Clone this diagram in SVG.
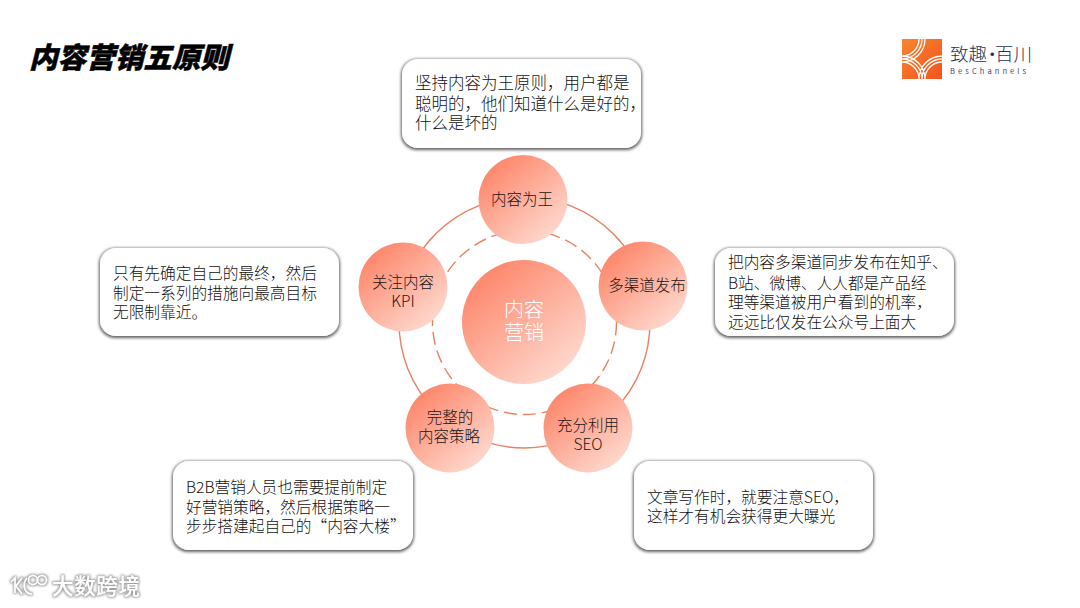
<svg xmlns="http://www.w3.org/2000/svg" width="1080" height="608" viewBox="0 0 1080 608">
<defs>
<linearGradient id="g" x1="0.12" y1="0.1" x2="0.85" y2="0.95"><stop offset="0" stop-color="#fd8468"/><stop offset="1" stop-color="#fedcd2"/></linearGradient>
<linearGradient id="lg" x1="0" y1="0" x2="1" y2="1"><stop offset="0" stop-color="#f9872f"/><stop offset="1" stop-color="#f2521e"/></linearGradient>
<filter id="sh" x="-10%" y="-15%" width="120%" height="130%"><feMorphology in="SourceAlpha" operator="dilate" radius="0.6" result="d"/><feGaussianBlur in="d" stdDeviation="1.6" result="b"/><feOffset in="b" dy="0.6" result="o"/><feFlood flood-color="#000" flood-opacity="0.62"/><feComposite in2="o" operator="in"/><feMerge><feMergeNode/><feMergeNode in="SourceGraphic"/></feMerge></filter>
<filter id="halo" x="-10%" y="-30%" width="120%" height="160%"><feMorphology in="SourceAlpha" operator="dilate" radius="0.6" result="d"/><feGaussianBlur in="d" stdDeviation="1.2" result="b"/><feFlood flood-color="#777" flood-opacity="0.7"/><feComposite in2="b" operator="in"/><feMerge><feMergeNode/><feMergeNode in="SourceGraphic"/></feMerge></filter>
</defs>
<style>
text{font-family:"Noto Sans CJK SC","Noto Sans",sans-serif}
.box{fill:#fff;filter:url(#sh)}
.t{font-size:15.7px;font-weight:300;fill:#111}
.n{font-size:15.5px;font-weight:300;fill:#1c1412;text-anchor:middle}
.c{fill:url(#g)}
.ring{fill:none;stroke:#e9805f;stroke-width:1.4}
.arc{fill:none;stroke:#fff;stroke-width:1.3}
</style>
<rect width="1080" height="608" fill="#fff"/>
<text id="title" transform="translate(29 68) skewX(-14)" font-size="28.6" font-weight="900" fill="#000" stroke="#000" stroke-width="0.5">内容营销五原则</text>

<g id="logo">
<rect x="902" y="39" width="40" height="40" fill="url(#lg)"/>
<path class="arc" d="M919 39A17 17 0 0 1 902 56M922 39A20 20 0 0 1 902 59M925 39A23 23 0 0 1 902 62M902 62A17 17 0 0 1 919 79M902 59A20 20 0 0 1 922 79M902 56A23 23 0 0 1 925 79M942 62A17 17 0 0 0 925 79M942 59A20 20 0 0 0 922 79M942 56A23 23 0 0 0 919 79"/>
<text fill="#1f3355" font-weight="300" font-size="18.5"><tspan x="950" y="61">致趣</tspan><tspan x="983" y="61">·</tspan><tspan x="995" y="61">百川</tspan><tspan x="950" y="74" font-size="7.5" font-weight="400" letter-spacing="3.1" fill="#3a4a66">BesChannels</tspan></text>
</g>

<g id="connectors">
<circle class="ring" cx="524.5" cy="322.5" r="125.5"/>
<circle class="ring" cx="524.5" cy="322.5" r="92" stroke-dasharray="13 6"/>
</g>

<g id="center"><circle class="c" cx="524" cy="322" r="62"/>
<text font-size="20" font-weight="300" fill="#fff" text-anchor="middle"><tspan x="524" y="317">内容</tspan><tspan x="524" y="340">营销</tspan></text></g>

<g id="n1"><circle class="c" cx="523" cy="199.5" r="44.5"/><text class="n" x="522" y="205">内容为王</text></g>
<g id="n2"><circle class="c" cx="643" cy="286" r="44.5"/><text class="n" x="647" y="291">多渠道发布</text></g>
<g id="n3"><circle class="c" cx="588" cy="428" r="44.5"/><text class="n"><tspan x="588" y="431">充分利用</tspan><tspan x="588" y="450">SEO</tspan></text></g>
<g id="n4"><circle class="c" cx="450" cy="428" r="44.5"/><text class="n"><tspan x="450" y="423">完整的</tspan><tspan x="449" y="442">内容策略</tspan></text></g>
<g id="n5"><circle class="c" cx="403" cy="287" r="44.5"/><text class="n"><tspan x="403" y="288">关注内容</tspan><tspan x="403" y="307">KPI</tspan></text></g>

<g id="b1"><rect class="box" x="402" y="59" width="239" height="89" rx="16"/>
<text class="t" style="font-size:16.5px"><tspan x="415" y="89">坚持内容为王原则，用户都是</tspan><tspan x="415" y="110">聪明的，他们知道什么是好的，</tspan><tspan x="415" y="129">什么是坏的</tspan></text></g>
<g id="b2"><rect class="box" x="715" y="248" width="239" height="88" rx="16"/>
<text class="t"><tspan x="728" y="268">把内容多渠道同步发布在知乎、</tspan><tspan x="728" y="289">B站、微博、人人都是产品经</tspan><tspan x="728" y="308">理等渠道被用户看到的机率，</tspan><tspan x="728" y="328">远远比仅发在公众号上面大</tspan></text></g>
<g id="b3"><rect class="box" x="634" y="461" width="239" height="89" rx="16"/>
<text class="t"><tspan x="647" y="502.5">文章写作时，就要注意SEO，</tspan><tspan x="647" y="521.5">这样才有机会获得更大曝光</tspan></text></g>
<g id="b4"><rect class="box" x="173" y="461" width="240" height="89" rx="16"/>
<text class="t"><tspan x="186" y="492.5">B2B营销人员也需要提前制定</tspan><tspan x="186" y="512.5">好营销策略，然后根据策略一</tspan><tspan x="186" y="531.5">步步搭建起自己的“内容大楼”</tspan></text></g>
<g id="b5"><rect class="box" x="100" y="248" width="239" height="88" rx="16"/>
<text class="t"><tspan x="113" y="278.5">只有先确定自己的最终，然后</tspan><tspan x="113" y="299">制定一系列的措施向最高目标</tspan><tspan x="113" y="318">无限制靠近。</tspan></text></g>

<g id="watermark" filter="url(#halo)">
<path d="M11 582L15 578V593M22 578L16 586L22 594M27 578C22 584 24 594 32 594" fill="none" stroke="#fff" stroke-width="1.6"/>
<circle cx="33" cy="580" r="4.5" fill="none" stroke="#fff" stroke-width="1.6"/><circle cx="42" cy="580" r="4.5" fill="none" stroke="#fff" stroke-width="1.6"/>
<text x="52" y="594" font-size="21.5" font-weight="500" fill="#fff" textLength="88">大数跨境</text>
</g>
</svg>
